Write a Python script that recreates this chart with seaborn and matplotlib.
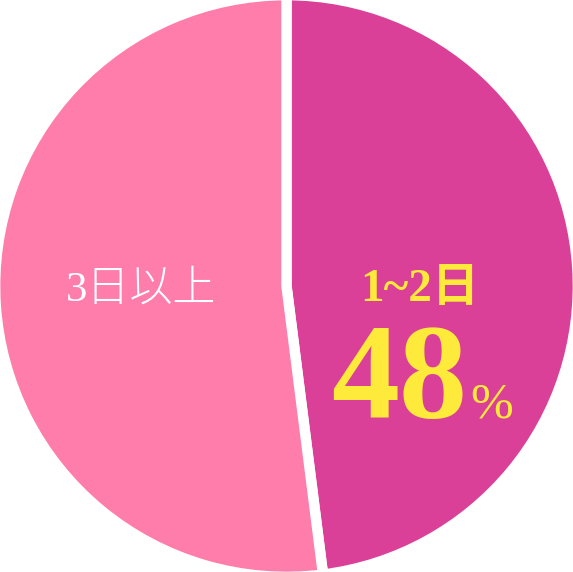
import matplotlib
matplotlib.use("Agg")
import matplotlib.pyplot as plt
import seaborn as sns

# ==================== DATA ====================
labels = ["1~2日", "3日以上"]
values = [48, 52]
colors = ["#DB4098", "#FF7DAA"]
pct_text = "48"

# ==================== STYLE ====================
sns.set_theme(style="white")
plt.rcParams['font.family'] = ['Liberation Serif', 'Noto Sans CJK JP']

W, H = 573, 572
fig = plt.figure(figsize=(W / 100, H / 100), dpi=100)
ax = fig.add_axes([0, 0, 1, 1])

# pie, clockwise from the top, white gap between slices
ax.pie(values, colors=colors, startangle=90, counterclock=False, radius=1.017,
       wedgeprops=dict(edgecolor="white", linewidth=7.5))
ax.set_xlim(-1, 1)
ax.set_ylim(-1, 1)
ax.set_aspect("auto")
ax.axis("off")

def px(x, y):
    return x / W, 1 - y / H

# labels
fig.text(*px(141, 290), labels[1], color="white", fontsize=31, weight="light",
         ha="center", va="center")
fig.text(*px(420, 290), labels[0], color="#FDEA3A", fontsize=34, weight="bold",
         ha="center", va="center")
fig.text(*px(467, 418), pct_text, color="#FDEA3A", fontsize=98, weight="bold",
         ha="right", va="baseline")
fig.text(*px(470, 418), "%", color="#FDEA3A", fontsize=37, weight="normal",
         ha="left", va="baseline")

fig.savefig("out.png", dpi=100, facecolor="white")
